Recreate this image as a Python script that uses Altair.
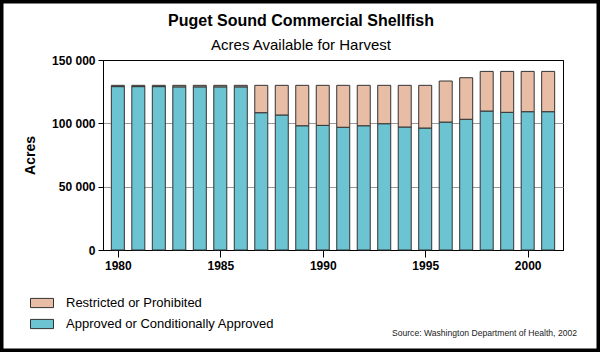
import altair as alt
import pandas as pd

years = list(range(1980, 2002))
approved = [129000, 129000, 129000, 128800, 128800, 128800, 128800,
            108400, 106600, 98100, 98400, 96900, 98100, 99700, 97100, 96300,
            101000, 103200, 109700, 108700, 109200, 109200]
restricted = [1000, 1000, 1000, 1200, 1200, 1200, 1200,
              21600, 23400, 31900, 31600, 33100, 31900, 30300, 32900, 33700,
              32400, 32800, 31300, 32300, 31800, 31800]
categories = ["Restricted or Prohibited", "Approved or Conditionally Approved"]
colors = ["#E8BDA5", "#6CC3D1"]
y_ticks = [0, 50000, 100000, 150000]
x_ticks = [1980, 1985, 1990, 1995, 2000]

title_text = "Puget Sound Commercial Shellfish"
subtitle_text = "Acres Available for Harvest"
source_text = "Source:  Washington Department of Health, 2002"

rows = []
for y, a, r in zip(years, approved, restricted):
    rows.append({"year": y, "category": categories[1], "acres": a})
    rows.append({"year": y, "category": categories[0], "acres": r})
df = pd.DataFrame(rows)

FONT = "Liberation Sans"
W, H = 460, 190
PL, PT = 103, 60

bars = alt.Chart(df).transform_calculate(
    stackorder="datum.category === 'Approved or Conditionally Approved' ? 0 : 1"
).mark_bar(size=13, stroke="#333333", strokeWidth=1).encode(
    x=alt.X("year:Q", scale=alt.Scale(domain=[1979.52, 2001.48], nice=False, zero=False),
            axis=alt.Axis(values=x_ticks, format="d", title=None, labelFont=FONT,
                          labelFontSize=12, labelFontWeight="bold", labelColor="black",
                          tickSize=7, tickColor="black", domainColor="black",
                          labelPadding=3, grid=False)),
    y=alt.Y("acres:Q", stack="zero", scale=alt.Scale(domain=[0, 150000], nice=False),
            axis=alt.Axis(values=y_ticks, title="Acres", titleFont=FONT, titleFontSize=14,
                          titleFontWeight="bold", titleColor="black", titlePadding=14,
                          labelFont=FONT, labelFontSize=12, labelFontWeight="bold",
                          labelColor="black", tickSize=5, tickColor="black",
                          domainColor="black", labelPadding=3,
                          labelExpr="replace(format(datum.value, ','), ',', ' ')",
                          grid=True,
                          gridColor={"condition": {"test": "datum.value >= 150000 || datum.value <= 0",
                                                   "value": "black"}, "value": "#9a9a9a"})),
    color=alt.Color("category:N", scale=alt.Scale(domain=categories, range=colors),
                    legend=alt.Legend(title=None, orient="none", legendX=-73, legendY=231,
                                      symbolType="M-1,-0.4H1V0.4H-1Z", symbolSize=529,
                                      symbolStrokeColor="#333333", symbolStrokeWidth=1,
                                      symbolOpacity=1, labelFont=FONT, labelFontSize=13,
                                      labelColor="black", labelOffset=12, rowPadding=2,
                                      padding=0, labelLimit=400)),
    order=alt.Order("stackorder:Q"),
)

one = pd.DataFrame({"a": [0]})

title = alt.Chart(one).mark_text(font=FONT, fontSize=16, fontWeight="bold", color="black",
                                 align="center", baseline="alphabetic").encode(
    x=alt.value(301 - PL), y=alt.value(26 - PT), text=alt.value(title_text))
subtitle = alt.Chart(one).mark_text(font=FONT, fontSize=15, color="black",
                                    align="center", baseline="alphabetic").encode(
    x=alt.value(301 - PL), y=alt.value(50 - PT), text=alt.value(subtitle_text))
source = alt.Chart(one).mark_text(font=FONT, fontSize=8.6, color="#222222",
                                  align="right", baseline="alphabetic").encode(
    x=alt.value(577 - PL), y=alt.value(336 - PT), text=alt.value(source_text))
frame = alt.Chart(one).mark_rect(fill=None, stroke="black", strokeWidth=3.5).encode(
    x=alt.value(1.75 - PL), x2=alt.value(598.25 - PL),
    y=alt.value(1.75 - PT), y2=alt.value(350.25 - PT))

chart = alt.layer(bars, title, subtitle, source, frame).properties(
    width=W, height=H,
    autosize=alt.AutoSizeParams(type="none"),
    padding={"left": PL, "top": PT, "right": 600 - PL - W, "bottom": 352 - PT - H},
    background="white",
).configure_view(stroke="black", strokeWidth=1)

chart.save("out.html", embed_options={"renderer": "svg", "actions": False})
